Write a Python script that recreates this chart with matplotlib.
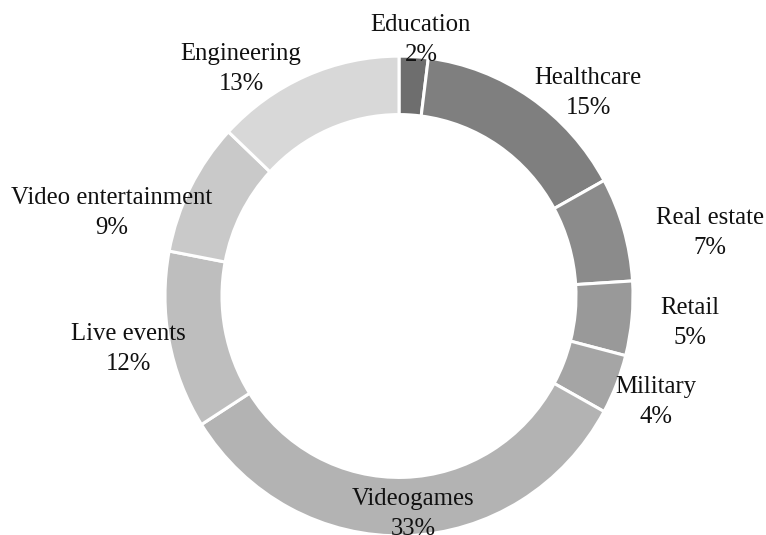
import matplotlib
matplotlib.use("Agg")
import matplotlib.pyplot as plt
import numpy as np

categories = ["Education", "Healthcare", "Real estate", "Retail", "Military",
              "Videogames", "Live events", "Video entertainment", "Engineering"]
shares = [2, 15, 7, 5, 4, 33, 12, 9, 13]

colors = ["#6e6e6e", "#7f7f7f", "#8b8b8b", "#999999", "#a5a5a5",
          "#b3b3b3", "#bebebe", "#c9c9c9", "#d8d8d8"]
# label layout offsets (pixels from ring centre, x right, y down)
label_offsets = [(22, -256), (189, -203), (311, -63), (291, 27), (257, 106),
                 (14, 218), (-271, 53), (-287, -83), (-158, -227)]

W, H = 766, 535
cx_pix, cy_pix = 399, 296     # ring centre in pixels
R, ring_w = 234, 57           # outer radius and ring width (pixels)
sy = 1.025                    # slight vertical stretch of the source image

fig = plt.figure(figsize=(W / 100, H / 100), dpi=100)
ax = fig.add_axes([0, 0, 1, 1])

# y axis is inverted, so start at -90 and go counter-clockwise in data
# space to appear clockwise from the top.
ax.pie(shares, colors=colors, startangle=-90, counterclock=True,
       center=(0, 0), radius=R, frame=True,
       wedgeprops=dict(width=ring_w, edgecolor="white", linewidth=2.2))
ax.set_aspect("auto")
ax.set_xlim(-cx_pix, W - cx_pix)
ax.set_ylim((H - cy_pix) / sy, -cy_pix / sy)
ax.axis("off")

for name, val, (dx, dy) in zip(categories, shares, label_offsets):
    ax.text(dx, dy / sy, f"{name}\n{val}%", ha="center", va="center",
            fontsize=17.8, family="Liberation Serif", linespacing=1.45,
            color="#111111")

fig.savefig("out.png", dpi=100)
